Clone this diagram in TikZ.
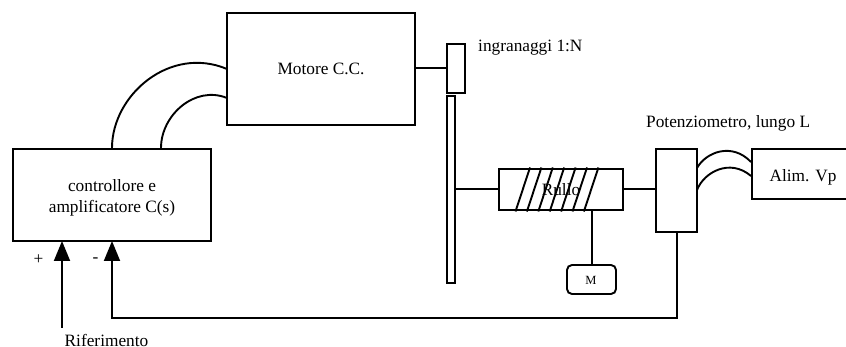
\documentclass[tikz,border=0pt]{standalone}
\usepackage{fontspec}
\setmainfont{Liberation Serif}
\usetikzlibrary{arrows.meta}
\begin{document}
\begin{tikzpicture}[x=1pt,y=-1pt,
  wire/.style={line width=1.9pt,black},
  block/.style={draw=black,line width=1.9pt,fill=white,inner sep=0pt},
  lab/.style={inner sep=0pt,font=\fontsize{17.3}{21}\selectfont,text=black,align=center},
  tip/.style={-{Triangle[length=20pt,width=16pt]}}]
\useasboundingbox (0,0) rectangle (846,347);
% blocks
\node[block,minimum width=198pt,minimum height=92pt] (ctrl) at (112,195) {};
\node[block,minimum width=188pt,minimum height=112pt] (motor) at (321,69) {};
\node[block,minimum width=18pt,minimum height=49pt] (gear) at (456,68.5) {};
\node[block,minimum width=8pt,minimum height=187pt] (bar) at (451,189.5) {};
\node[block,minimum width=124pt,minimum height=41pt] (rullo) at (561,189.5) {};
\node[block,rounded corners=5pt,minimum width=49pt,minimum height=29pt] (m) at (591.5,279.5) {};
\node[block,minimum width=41pt,minimum height=83pt] (pot) at (676.5,190.5) {};
\node[block,anchor=west,minimum width=96pt,minimum height=50pt] (alim) at (751,174) {};
% coil
\foreach \i in {0,...,6} {
  \coordinate (cb\i) at ({515.5+\i*11.4},211.5);
  \coordinate (ct\i) at ({530+\i*11.4},167.5);
  \draw[wire] (cb\i) -- (ct\i);
}
% labels
\node[lab] (tm) at (321,69) {Motore C.C.};
\node[lab] (tc) at (112,198) {controllore e\\amplificatore C(s)};
\node[lab] (tr) at (561,190) {Rullo};
\node[lab,font=\fontsize{12.5}{15}\selectfont] (tmm) at (591,280) {M};
\node[lab] (ta) at (803,177) {Alim. Vp};
\node[lab,anchor=west] (ti) at (478,48) {ingranaggi 1:N};
\node[lab,anchor=west] (tp) at (646,123) {Potenziometro, lungo L};
\node[lab] (tplus) at (38.5,260) {+};
\node[lab] (tminus) at (95.5,260) {-};
\node[lab] (trif) at (106.5,340) {Riferimento};
% connectors
\coordinate (rif) at (62,328);
\coordinate (a1) at (62,241);
\coordinate (a2) at (112,241);
\coordinate (fb) at (112,318);
\draw[wire] ([yshift=.5pt]motor.east |- gear.west) -- ([yshift=.5pt]gear.west);
\draw[wire] ([yshift=.5pt]bar.east |- rullo.west) -- ([yshift=.5pt]rullo.west);
\draw[wire] ([yshift=.5pt]rullo.east) -- ([yshift=.5pt]pot.west |- rullo.east);
\draw[wire] ([xshift=.5pt]m.north |- rullo.south) -- ([xshift=.5pt]m.north);
\draw[wire,tip] (rif) -- (a1);
\draw[wire,tip] ([xshift=.5pt]pot.south) |- (fb) -- (a2);
\draw[wire] (112,148) .. controls (112,95) and (170,45) .. (227,69);
\draw[wire] (161,148) .. controls (161,115) and (195,85) .. (227,98);
\draw[wire] (697,168) .. controls (706,152) and (732,142) .. (751,162);
\draw[wire] (697,190) .. controls (704,172) and (730,158) .. (751,176);
\end{tikzpicture}
\end{document}
